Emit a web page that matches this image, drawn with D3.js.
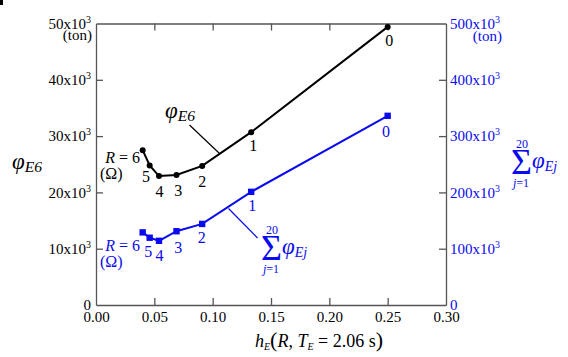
<!DOCTYPE html>
<html><head><meta charset="utf-8">
<script src="https://cdn.jsdelivr.net/npm/d3@7"></script>
<style>
body{margin:0;background:#fff;}
svg{display:block;}
svg text{font-family:"Liberation Serif","Times New Roman",Times,"DejaVu Serif",serif;}
</style></head>
<body><svg id="c" width="568" height="357"></svg>
<script>
// ---- data ----
const rValues = [0, 1, 2, 3, 4, 5, 6];
const hE = [0.250, 0.133, 0.091, 0.069, 0.054, 0.046, 0.040];
const phiE6 = [49400, 30700, 24700, 23100, 22900, 24800, 27500];
const sumPhi = [336000, 201000, 144000, 131000, 114000, 119500, 129000];
const xTicks = [0, 0.05, 0.10, 0.15, 0.20, 0.25, 0.30];
const leftTicks = [0, 10000, 20000, 30000, 40000, 50000];
const rightTicks = [0, 100000, 200000, 300000, 400000, 500000];

// label offsets (layout only)
const blackLabelOff = [[1.5,14],[2,13],[0,15],[1.7,15],[0.4,15.7],[-3.6,11.4],null];
const blueLabelOff = [[-1.6,16],[1,13.3],[-0.4,13.7],[1.7,15.7],[0.4,15],[-1.3,14],null];

const BLUE = "#0a0aef";
const AX = "#555";

const svg = d3.select("#c");
const x = d3.scaleLinear().domain([0, 0.30]).range([96, 446]);
const yL = d3.scaleLinear().domain([0, 50000]).range([305, 23.5]);
const yR = d3.scaleLinear().domain([0, 500000]).range([305, 23.5]);

svg.append("rect").attr("x",0).attr("y",0).attr("width",3).attr("height",5).attr("fill","#000");

function fmtK(v){ return v === 0 ? null : (v/1000) + "x10"; }

// axes
const gB = svg.append("g").attr("transform","translate(0,305)")
  .call(d3.axisBottom(x).tickValues(xTicks).tickFormat(d3.format(".2f")).tickSize(-7).tickSizeOuter(0).tickPadding(6));
const gT = svg.append("g").attr("transform","translate(0,23.5)")
  .call(d3.axisTop(x).tickValues(xTicks).tickFormat("").tickSize(-7).tickSizeOuter(0));
const gL = svg.append("g").attr("transform","translate(96,0)")
  .call(d3.axisLeft(yL).tickValues(leftTicks).tickSize(-7).tickSizeOuter(0).tickPadding(5));
const gR = svg.append("g").attr("transform","translate(446,0)")
  .call(d3.axisRight(yR).tickValues(rightTicks).tickSize(-7).tickSizeOuter(0).tickPadding(4));

[gB,gT,gL,gR].forEach(g=>{
  g.attr("font-family",null);
  g.selectAll("path.domain").attr("stroke",AX).attr("stroke-width",1.3);
  g.selectAll(".tick line").attr("stroke",AX).attr("stroke-width",1.3);
  g.selectAll("text").attr("font-size",15).attr("fill","#000");
});
gB.selectAll(".tick line").filter(d=>d===0||d===0.30).remove();
gT.selectAll(".tick line").filter(d=>d===0||d===0.30).remove();
gL.selectAll(".tick line").filter(d=>d===0||d===50000).remove();
gR.selectAll(".tick line").filter(d=>d===0||d===500000).remove();

function superLabels(g){
  g.selectAll(".tick text").each(function(d){
    const t = d3.select(this);
    const s = fmtK(d);
    if(s){
      t.text(null);
      t.append("tspan").text(s);
      t.append("tspan").attr("font-size",10).attr("dy",-6).text("3");
    } else t.text("0");
  });
}
superLabels(gL);
superLabels(gR);
gR.selectAll("text").attr("fill",BLUE);

// (ton) units
svg.append("text").attr("x",92).attr("y",40).attr("text-anchor","end").attr("font-size",15).text("(ton)");
svg.append("text").attr("x",502).attr("y",41).attr("text-anchor","end").attr("font-size",15).attr("fill",BLUE).text("(ton)");

// lines
const idx = d3.range(rValues.length);
const lineL = d3.line().x(i=>x(hE[i])).y(i=>yL(phiE6[i]));
const lineR = d3.line().x(i=>x(hE[i])).y(i=>yR(sumPhi[i]));
svg.append("path").attr("d",lineL(idx)).attr("fill","none").attr("stroke","#000").attr("stroke-width",2);
svg.append("path").attr("d",lineR(idx)).attr("fill","none").attr("stroke",BLUE).attr("stroke-width",2);
svg.selectAll("circle.pt").data(idx).join("circle").attr("class","pt")
  .attr("cx",i=>x(hE[i])).attr("cy",i=>yL(phiE6[i])).attr("r",3).attr("fill","#000");
svg.selectAll("rect.sq").data(idx).join("rect").attr("class","sq")
  .attr("x",i=>x(hE[i])-3.2).attr("y",i=>yR(sumPhi[i])-3.2).attr("width",6.4).attr("height",6.4).attr("fill",BLUE);

// point labels
idx.forEach(i=>{
  if(blackLabelOff[i]){
    svg.append("text").attr("x",x(hE[i])+blackLabelOff[i][0]).attr("y",yL(phiE6[i])+blackLabelOff[i][1])
      .attr("dy","0.35em").attr("text-anchor","middle").attr("font-size",16).text(rValues[i]);
  }
  if(blueLabelOff[i]){
    svg.append("text").attr("x",x(hE[i])+blueLabelOff[i][0]).attr("y",yR(sumPhi[i])+blueLabelOff[i][1])
      .attr("dy","0.35em").attr("text-anchor","middle").attr("font-size",16).attr("fill",BLUE).text(rValues[i]);
  }
});
// R = 6 labels
function rLabel(xEnd, yc, color){
  const t = svg.append("text").attr("x",xEnd).attr("y",yc).attr("dy","0.35em").attr("text-anchor","end")
    .attr("font-size",16).attr("fill",color);
  t.append("tspan").attr("font-style","italic").text("R");
  t.append("tspan").text(" = 6");
  svg.append("text").attr("x",100).attr("y",yc+16).attr("dy","0.35em").attr("font-size",16).attr("fill",color).text("(Ω)");
}
rLabel(140, yL(phiE6[6])+7, "#000");
rLabel(140, yR(sumPhi[6])+13, BLUE);

// phi_E6 labels
function phiLabel(xs, yc, size, sub){
  const t = svg.append("text").attr("x",xs).attr("y",yc).attr("font-style","italic");
  t.append("tspan").attr("font-size",size).text("φ");
  t.append("tspan").attr("font-size",size*0.68).attr("dy",3).text(sub);
  return t;
}
phiLabel(12, 169, 23, "E6");
phiLabel(165, 118, 23, "E6");
svg.append("line").attr("x1",189.5).attr("y1",125).attr("x2",219.5).attr("y2",153.5).attr("stroke","#000").attr("stroke-width",1.2);

// sum labels
function sumLabel(xs, yBase, color){
  svg.append("text").attr("x",xs).attr("y",yBase).attr("font-size",36).attr("fill",color).text("Σ");
  svg.append("text").attr("x",xs+11).attr("y",yBase-26).attr("text-anchor","middle").attr("font-size",12).attr("fill",color).text("20");
  const j = svg.append("text").attr("x",xs+10).attr("y",yBase+13).attr("text-anchor","middle").attr("font-size",12).attr("fill",color);
  j.append("tspan").attr("font-style","italic").text("j");
  j.append("tspan").text("=1");
  const t = svg.append("text").attr("x",xs+21).attr("y",yBase-6).attr("font-style","italic").attr("fill",color);
  t.append("tspan").attr("font-size",23).text("φ");
  t.append("tspan").attr("font-size",14).attr("dy",3).text("Ej");
}
sumLabel(261, 260, BLUE);
svg.append("line").attr("x1",228.5).attr("y1",208.5).attr("x2",257.5).attr("y2",238).attr("stroke",BLUE).attr("stroke-width",1.2);
sumLabel(511, 174, BLUE);

// x axis title
const xt = svg.append("text").attr("x",255).attr("y",347).attr("font-size",18);
xt.append("tspan").attr("font-style","italic").text("h");
xt.append("tspan").attr("font-style","italic").attr("font-size",10).attr("dy",3).text("E");
xt.append("tspan").attr("dy",-3).attr("font-size",22).text("(");
xt.append("tspan").attr("font-style","italic").text("R");
xt.append("tspan").text(", ");
xt.append("tspan").attr("font-style","italic").text("T");
xt.append("tspan").attr("font-style","italic").attr("font-size",10).attr("dy",3).text("E");
xt.append("tspan").attr("dy",-3).text(" = 2.06 s");
xt.append("tspan").attr("font-size",22).text(")");
</script></body></html>
